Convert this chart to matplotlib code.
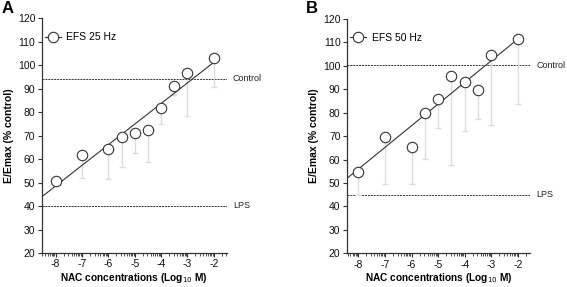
import matplotlib
matplotlib.use("Agg")
import matplotlib.pyplot as plt
import numpy as np
from matplotlib.lines import Line2D
from matplotlib.ticker import FixedLocator

plt.rcParams['font.family'] = ['Liberation Sans', 'DejaVu Sans']

# log10 NAC concentrations
conc = [-8, -7, -6, -5.5, -5, -4.5, -4, -3.5, -3, -2]

# panel A: EFS 25 Hz
resp_25 = [50.8, 61.7, 64.1, 69.5, 71.2, 72.3, 81.6, 91.3, 96.7, 103.0]
low_25 = [50.0, 51.8, 51.4, 56.5, 62.7, 58.6, 75.0, 87.3, 78.5, 90.9]
control_25 = 94.3
lps_25 = 40.1

# panel B: EFS 50 Hz
resp_50 = [54.9, 69.8, 65.5, 80.0, 86.0, 95.5, 93.3, 89.6, 104.8, 111.5]
low_50 = [45.0, 49.6, 49.6, 60.1, 73.5, 57.7, 72.3, 77.2, 74.6, 83.7]
control_50 = 100.2
lps_50 = 44.9

panels = [
    ("A", "EFS 25 Hz", resp_25, low_25, control_25, lps_25,
     [0.0735, 0.1185, 0.326, 0.818], (-8.53, -1.52), (0.003, 0.97)),
    ("B", "EFS 50 Hz", resp_50, low_50, control_50, lps_50,
     [0.6115, 0.1174, 0.3233, 0.8164], (-8.44, -1.54), (0.54, 0.97)),
]

fig = plt.figure(figsize=(5.67, 2.87), dpi=100)
dark = "#333333"

for letter, label, resp, low, ctrl, lps, rect, xlim, lpos in panels:
    ax = fig.add_axes(rect)
    x = np.array(conc)
    y = np.array(resp)
    lo = np.array(low)

    # downward error bars only
    ax.errorbar(x, y, yerr=[y - lo, np.zeros_like(y)], fmt="none",
                ecolor="#dcdcdc", elinewidth=1.0, capsize=2.5, capthick=1.0, zorder=1)

    # regression line
    coefs = np.polyfit(x, y, 1)
    xf = np.linspace(xlim[0], -2, 50)
    ax.plot(xf, np.polyval(coefs, xf), color=dark, lw=0.8, zorder=2)

    ax.plot(x, y, "o", ms=7.5, mfc="white", mec=dark, mew=0.8, zorder=3)

    # reference lines
    for val, name in [(ctrl, "Control"), (lps, "LPS")]:
        ax.axhline(val, color=dark, lw=0.7, ls=(0, (2, 1)), zorder=0)
        ax.text(1.035, (val - 20) / 100, name, transform=ax.transAxes,
                fontsize=6.5, va="center", ha="left", color="#222222")

    ax.set_xlim(*xlim)
    ax.set_ylim(20, 120)
    ax.set_yticks(np.arange(20, 121, 10))
    ax.set_xticks(range(-8, -1))
    ax.set_xticklabels([str(v) for v in range(-8, -1)])
    minors = [n + np.log10(k) for n in range(-9, -1) for k in range(2, 10)]
    minors = [m for m in minors if xlim[0] < m < xlim[1]]
    ax.xaxis.set_minor_locator(FixedLocator(minors))

    for s in ["top", "right"]:
        ax.spines[s].set_visible(False)
    for s in ["left", "bottom"]:
        ax.spines[s].set_color(dark)
        ax.spines[s].set_linewidth(0.9)
    ax.tick_params(axis="both", which="major", length=3, width=0.8, color=dark,
                   labelsize=7.5, pad=1.5, labelcolor="#111111")
    ax.tick_params(axis="x", which="minor", length=1.8, width=0.6, color=dark)

    ax.set_xlabel("NAC concentrations (Log$_{10}$ M)", fontsize=7.3,
                  fontweight="bold", labelpad=1)
    ax.set_ylabel("E/Emax (% control)", fontsize=7.5, fontweight="bold", labelpad=3)

    handle = Line2D([], [], color=dark, lw=0.8, marker="o", ms=7.5, mfc="white",
                    mec=dark, mew=0.8)
    ax.legend([handle], [label], loc="upper left", bbox_to_anchor=(-0.035, 0.98),
              frameon=False, fontsize=7.5, handlelength=1.6, handletextpad=0.5)

    fig.text(lpos[0], lpos[1], letter, fontsize=12, fontweight="bold", va="center")

fig.savefig("out.png", dpi=100)
